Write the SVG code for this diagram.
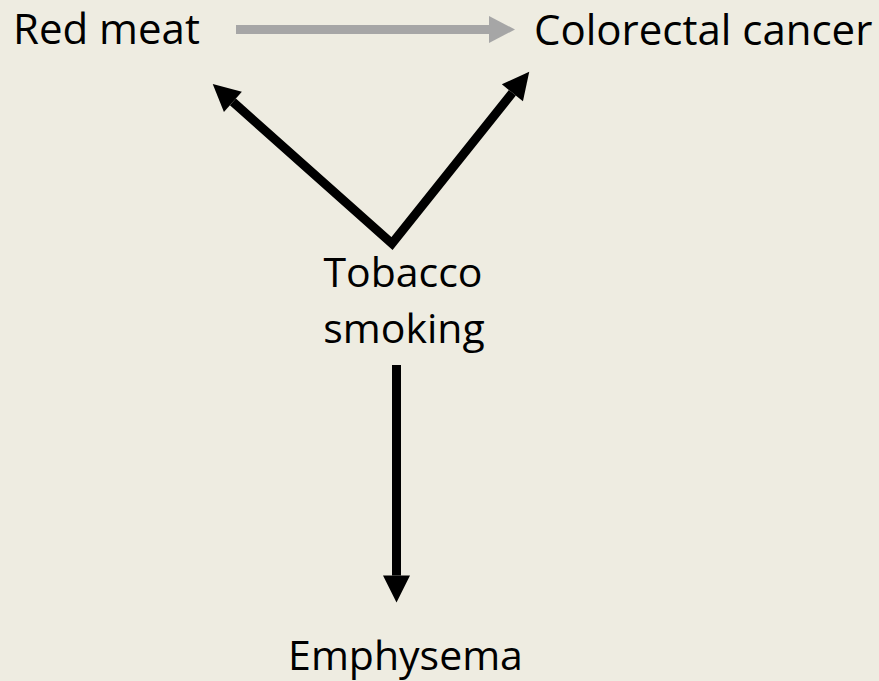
<svg xmlns="http://www.w3.org/2000/svg" width="879" height="681" viewBox="0 0 879 681">
  <style>
    .label { font-family: "Open Sans", "Noto Sans", "Liberation Sans", sans-serif; font-size: 41px; fill: #000000; }
    .label-top { font-size: 42px; }
    .edge { fill: none; stroke-width: 9; stroke-linejoin: miter; stroke-linecap: butt; }
    .edge-black { stroke: #000000; }
    .edge-gray { stroke: #A6A6A6; }
  </style>
  <defs>
    <marker id="head-black" markerUnits="userSpaceOnUse" markerWidth="28" markerHeight="28" refX="0" refY="13.5" orient="auto-start-reverse" overflow="visible">
      <path d="M0,0 L27,13.5 L0,27 Z" fill="#000000"/>
    </marker>
    <marker id="head-gray" markerUnits="userSpaceOnUse" markerWidth="28" markerHeight="28" refX="0" refY="13.5" orient="auto" overflow="visible">
      <path d="M0,0 L26,13.5 L0,27 Z" fill="#A6A6A6"/>
    </marker>
  </defs>

  <rect x="0" y="0" width="879" height="681" fill="#EEECE1"/>

  <g id="connectors">
    <!-- red meat -> colorectal cancer -->
    <line id="edge-meat-cancer" class="edge edge-gray" x1="236" y1="29.5" x2="489" y2="29.5" marker-end="url(#head-gray)"/>
    <!-- tobacco smoking -> red meat and colorectal cancer -->
    <polyline id="edge-smoking-meat-cancer" class="edge edge-black" points="232.9,101.9 392,243.5 512.4,92.8" marker-start="url(#head-black)" marker-end="url(#head-black)"/>
    <!-- tobacco smoking -> emphysema -->
    <line id="edge-smoking-emphysema" class="edge edge-black" x1="396.5" y1="365" x2="396.5" y2="575.5" marker-end="url(#head-black)"/>
  </g>

  <g id="node-red-meat">
    <text class="label label-top" x="13" y="44">Red meat</text>
  </g>
  <g id="node-colorectal-cancer">
    <text class="label label-top" x="534" y="45">Colorectal cancer</text>
  </g>
  <g id="node-tobacco-smoking">
    <text class="label" x="403" y="287" text-anchor="middle">Tobacco</text>
    <text class="label" x="404" y="343" text-anchor="middle">smoking</text>
  </g>
  <g id="node-emphysema">
    <text class="label" x="405.5" y="670" text-anchor="middle">Emphysema</text>
  </g>
</svg>
